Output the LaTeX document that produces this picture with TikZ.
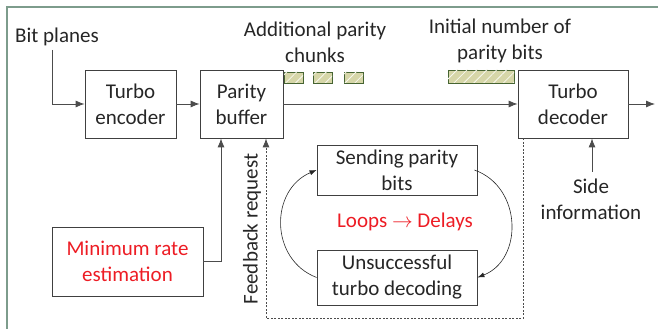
\documentclass[tikz,border=0pt]{standalone}
\usepackage{fontspec}
\setmainfont{Carlito}
\usetikzlibrary{arrows.meta,patterns.meta}
\definecolor{framegreen}{RGB}{125,156,140}
\definecolor{chunkfill}{RGB}{214,214,168}
\definecolor{chunkline}{RGB}{70,100,50}
\definecolor{alertred}{RGB}{237,28,36}
\begin{document}
\begin{tikzpicture}[x=1pt,y=1pt,
    font=\fontsize{21}{26}\selectfont, text=black!85,
    block/.style={draw=black!75, line width=.8pt, align=center, inner sep=0pt},
    link/.style={draw=black!70, line width=.8pt, -{Latex[length=9pt,width=7pt]}},
    loop/.style={draw=black!85, line width=.6pt, -{Latex[length=7pt,width=5pt]}},
    chunk/.style={draw=chunkline, line width=.8pt, fill=chunkfill}]
    \useasboundingbox (0,0) rectangle (658,329);
    \draw[framegreen, line width=1.5pt] (7,0) |- (658,322);

    \node[block, minimum width=91, minimum height=68] (enc) at (130.5,225) {Turbo\\encoder};
    \node[block, minimum width=83, minimum height=68] (buf) at (241.5,225) {Parity\\buffer};
    \node[block, minimum width=110, minimum height=68] (dec) at (573,225) {Turbo\\decoder};
    \node[block, minimum width=160, minimum height=50] (send) at (397,159) {Sending parity\\bits};
    \node[block, minimum width=160, minimum height=55] (fail) at (397,51.5) {Unsuccessful\\turbo decoding};
    \node[block, minimum width=151, minimum height=69, text=alertred] (minr) at (127.5,67.5) {Minimum rate\\estimation};

    \node (bits) at (57,292) {Bit planes};
    \node[align=center] (addl) at (315,287) {Additional parity\\chunks};
    \node[align=center] (init) at (500,288) {Initial number of\\parity bits};
    \node[align=center] (side) at (591,130) {Side\\information};
    \node[text=alertred] (delay) at (405,107) {Loops $\rightarrow$ Delays};
    \node[rotate=90] (fbk) at (252,100) {Feedback request};

    \foreach \x in {284,313,344}
        \draw[chunk, postaction={pattern={Lines[angle=45,distance=7pt,line width=.8pt]}, pattern color=white!80!chunkfill}] (\x,246) rectangle ++(19,11);
    \draw[chunk, postaction={pattern={Lines[angle=45,distance=7pt,line width=.8pt]}, pattern color=white!80!chunkfill}] (448,246) rectangle (514,259);

    \coordinate (bp) at (52,279);
    \coordinate (si) at (592,157);
    \coordinate (out) at (655,225);
    \draw[link] (bp) |- (enc);
    \draw[link] (enc) -- (buf);
    \draw[link] (buf) -- (dec);
    \draw[link] (dec) -- (out);
    \draw[link] (si) -- (si |- dec.south);
    \draw[link] (minr.east) -| ([xshift=-20.5pt]buf.south);
    \draw[link, dashed, dash pattern=on 2pt off 1.5pt] ([xshift=-50pt]dec.south) -- ++(0,-180) -| ([xshift=24.5pt]buf.south);

    \draw[loop] (fail.west) .. controls +(-47,18) and +(-47,-20) .. (send.west);
    \draw[loop] ([xshift=-3pt]send.east) .. controls +(48,-17) and +(46,18) .. (fail.east);
\end{tikzpicture}
\end{document}
